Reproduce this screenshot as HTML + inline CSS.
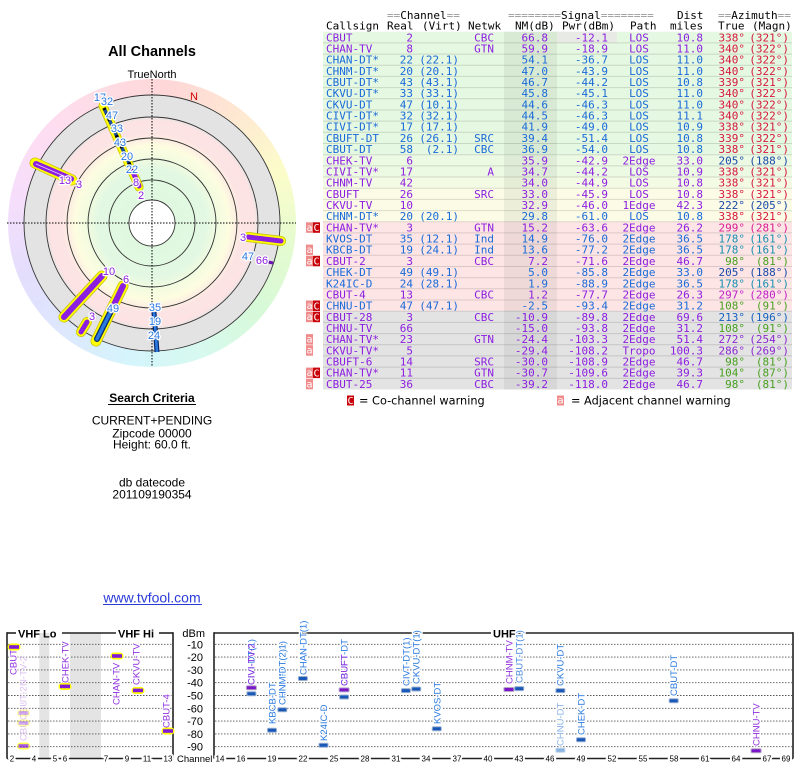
<!DOCTYPE html>
<html><head><meta charset="utf-8"><style>
html,body{margin:0;padding:0;background:#fff;}
#wrap{position:relative;width:800px;height:768px;overflow:hidden;background:#fff;}
#ring{position:absolute;left:8px;top:79px;width:288px;height:288px;border-radius:50%;
background:conic-gradient(from 8deg, hsl(0,95%,92%), hsl(30,95%,91%), hsl(60,90%,89%), hsl(90,85%,90%), hsl(120,75%,91%), hsl(160,75%,91%), hsl(190,85%,91%), hsl(220,90%,93%), hsl(250,85%,93%), hsl(285,85%,93%), hsl(320,90%,93%), hsl(345,95%,93%), hsl(360,95%,92%));}
#zones{position:absolute;left:24px;top:95px;width:256px;height:256px;border-radius:50%;
background:radial-gradient(circle closest-side, #fff 0, #fff 17.8%, #e0f8e0 18.2%, #e2f8e2 42%, #f6fce0 54%, #fdfde0 60%, #fde4e4 70%, #fde3e3 80%, #e3e3e3 83.5%, #e3e3e3 100%);}
svg{position:absolute;left:0;top:0;}
.m{font-family:"DejaVu Sans Mono","Liberation Mono",monospace;font-size:11px;}
.e{text-anchor:end;}
.c{text-anchor:middle;}
.s{font-family:"Liberation Sans",Arial,sans-serif;}
.lb{font-family:"Liberation Sans",Arial,sans-serif;font-size:11px;text-anchor:middle;stroke:#fff;stroke-width:2.5;paint-order:stroke;stroke-linejoin:round;}
.rl{font-family:"Liberation Sans",Arial,sans-serif;font-size:9.5px;stroke:#fff;stroke-width:2.5;paint-order:stroke;stroke-linejoin:round;}
.tk{font-family:"Liberation Sans",Arial,sans-serif;font-size:8px;text-anchor:middle;stroke:#fff;stroke-width:4;paint-order:stroke;}
</style></head><body><div id="wrap">
<div id="ring"></div><div id="zones"></div>
<svg width="800" height="768" viewBox="0 0 800 768" xmlns="http://www.w3.org/2000/svg">
<!-- ===== POLAR ===== -->
<g class="s">
<text x="152" y="56" text-anchor="middle" font-size="14.5" font-weight="bold">All Channels</text>
<text x="152" y="78" text-anchor="middle" font-size="11">TrueNorth</text>
</g>
<g fill="none" stroke="#333" stroke-width="0.9">
<circle cx="152" cy="223" r="23"/><circle cx="152" cy="223" r="43"/><circle cx="152" cy="223" r="64"/>
<circle cx="152" cy="223" r="85"/><circle cx="152" cy="223" r="106"/><circle cx="152" cy="223" r="128"/>
</g>
<g stroke="#000" stroke-width="1" stroke-dasharray="1.5 1.5">
<line x1="7" y1="223" x2="296" y2="223"/><line x1="152" y1="79" x2="152" y2="367"/>
</g>
<text x="194" y="100" class="s" font-size="11" fill="#d00000" text-anchor="middle">N</text>
<g stroke-linecap="round">
<!-- bar 339 -->
<line x1="103" y1="106" x2="139" y2="187" stroke="#c8c000" stroke-width="9"/>
<line x1="103" y1="106" x2="139" y2="187" stroke="#ffff00" stroke-width="7.5"/>
<line x1="104" y1="108" x2="133" y2="172" stroke="#1a4a9a" stroke-width="3.5" stroke-linecap="butt"/>
<line x1="104" y1="108" x2="133" y2="172" stroke="#000" stroke-width="3.5" stroke-dasharray="2 4" stroke-linecap="butt"/>
<line x1="133" y1="172" x2="139" y2="186" stroke="#8c1ee0" stroke-width="5"/>
<!-- bar 298 -->
<line x1="35" y1="163" x2="72" y2="180" stroke="#c8c000" stroke-width="11"/>
<line x1="35" y1="163" x2="72" y2="180" stroke="#ffff00" stroke-width="9.5"/>
<line x1="36" y1="164" x2="71" y2="179" stroke="#8c1ee0" stroke-width="6"/>
<line x1="36" y1="164" x2="71" y2="179" stroke="#e8d0ff" stroke-width="0.8"/>
<!-- bar 98 -->
<line x1="248" y1="237" x2="281" y2="241" stroke="#c8c000" stroke-width="10"/>
<line x1="248" y1="237" x2="281" y2="241" stroke="#ffff00" stroke-width="8.5"/>
<line x1="248" y1="237" x2="281" y2="241" stroke="#8c1ee0" stroke-width="5"/>
<line x1="268" y1="262" x2="273" y2="263" stroke="#6a10b0" stroke-width="3" stroke-linecap="butt"/>
<!-- bar 222 -->
<line x1="64" y1="317" x2="102" y2="276" stroke="#c8c000" stroke-width="11"/>
<line x1="64" y1="317" x2="102" y2="276" stroke="#ffff00" stroke-width="9.5"/>
<line x1="64" y1="317" x2="102" y2="276" stroke="#8c1ee0" stroke-width="6"/>
<!-- bar 205 -->
<line x1="96" y1="341" x2="123" y2="286" stroke="#c8c000" stroke-width="11"/>
<line x1="96" y1="341" x2="123" y2="286" stroke="#ffff00" stroke-width="9.5"/>
<line x1="123" y1="286" x2="110" y2="313" stroke="#8c1ee0" stroke-width="6"/>
<line x1="110" y1="313" x2="97" y2="339" stroke="#0a2a70" stroke-width="6"/>
<line x1="110" y1="313" x2="97" y2="339" stroke="#2a7ae0" stroke-width="3.5"/>
<!-- bar 213 -->
<line x1="81" y1="332" x2="87" y2="322" stroke="#c8c000" stroke-width="10"/>
<line x1="81" y1="332" x2="87" y2="322" stroke="#ffff00" stroke-width="8.5"/>
<line x1="81" y1="332" x2="87" y2="322" stroke="#8c1ee0" stroke-width="5"/>
<!-- bar 178 -->
<line x1="154" y1="312" x2="157" y2="352" stroke="#0a2a70" stroke-width="5" stroke-linecap="butt"/>
<line x1="154" y1="312" x2="157" y2="352" stroke="#2a7ae0" stroke-width="2.5" stroke-linecap="butt"/>
</g>
<g class="lb">
<text x="100" y="101" fill="#2a78e0">17</text>
<text x="107" y="105" fill="#2a78e0">32</text>
<text x="112" y="119" fill="#2a78e0">47</text>
<text x="117" y="132" fill="#2a78e0">33</text>
<text x="120" y="146" fill="#2a78e0">43</text>
<text x="127" y="160" fill="#2a78e0">20</text>
<text x="132" y="173" fill="#2a78e0">22</text>
<text x="136" y="186" fill="#8c1ee0">8</text>
<text x="141" y="199" fill="#8c1ee0">2</text>
<text x="65" y="184" fill="#8c1ee0">13</text>
<text x="79" y="188" fill="#8c1ee0">3</text>
<text x="243" y="241" fill="#8c1ee0">3</text>
<text x="248" y="260" fill="#2a78e0">47</text>
<text x="262" y="264" fill="#8c1ee0">66</text>
<text x="109" y="275" fill="#8c1ee0">10</text>
<text x="126" y="283" fill="#8c1ee0">6</text>
<text x="113" y="312" fill="#2a78e0">49</text>
<text x="92" y="320" fill="#8c1ee0">3</text>
<text x="155" y="311" fill="#2a78e0">35</text>
<text x="155" y="325" fill="#2a78e0">19</text>
<text x="154" y="339" fill="#2a78e0">24</text>
</g>
<!-- ===== LEFT TEXT ===== -->
<g class="s" text-anchor="middle" font-size="12">
<text x="152" y="402" font-weight="bold">Search Criteria</text>
<line x1="108" y1="404.5" x2="196" y2="404.5" stroke="#000" stroke-width="1"/>
<text x="152" y="424.3">CURRENT+PENDING</text>
<text x="152" y="437.3">Zipcode 00000</text>
<text x="152" y="448.3">Height: 60.0 ft.</text>
<text x="152" y="486.3">db datecode</text>
<text x="152" y="498.3">201109190354</text>
<text x="152" y="602.5" font-size="14" fill="#2a3bd8">www.tvfool.com</text>
<line x1="103" y1="604.5" x2="202" y2="604.5" stroke="#2a3bd8" stroke-width="1"/>
</g>
<!-- ===== TABLE ===== -->
<rect x="323" y="31.7" width="469" height="123" fill="#e5f8e1"/>
<rect x="323" y="154.7" width="469" height="22.3" fill="#ecf9e3"/>
<rect x="323" y="177" width="469" height="11.2" fill="#f4fbe4"/>
<rect x="323" y="188.2" width="469" height="33.6" fill="#fcfce6"/>
<rect x="323" y="221.8" width="469" height="89.4" fill="#fde5e5"/>
<rect x="323" y="311.2" width="469" height="78.3" fill="#e3e3e3"/>
<rect x="504" y="31.7" width="53" height="357.8" fill="#3c503c" fill-opacity="0.08"/>
<rect x="557" y="31.7" width="60" height="11.2" fill="#e8ebe5"/>
<g stroke="#000" stroke-opacity="0.13" stroke-width="1">
<line x1="323" x2="792" y1="42.9" y2="42.9"/><line x1="323" x2="792" y1="54.1" y2="54.1"/><line x1="323" x2="792" y1="65.2" y2="65.2"/><line x1="323" x2="792" y1="76.4" y2="76.4"/><line x1="323" x2="792" y1="87.6" y2="87.6"/><line x1="323" x2="792" y1="98.8" y2="98.8"/><line x1="323" x2="792" y1="110" y2="110"/><line x1="323" x2="792" y1="121.1" y2="121.1"/><line x1="323" x2="792" y1="132.3" y2="132.3"/><line x1="323" x2="792" y1="143.5" y2="143.5"/><line x1="323" x2="792" y1="154.7" y2="154.7"/><line x1="323" x2="792" y1="165.9" y2="165.9"/><line x1="323" x2="792" y1="177" y2="177"/><line x1="323" x2="792" y1="188.2" y2="188.2"/><line x1="323" x2="792" y1="199.4" y2="199.4"/><line x1="323" x2="792" y1="210.6" y2="210.6"/><line x1="323" x2="792" y1="221.8" y2="221.8"/><line x1="323" x2="792" y1="232.9" y2="232.9"/><line x1="323" x2="792" y1="244.1" y2="244.1"/><line x1="323" x2="792" y1="255.3" y2="255.3"/><line x1="323" x2="792" y1="266.5" y2="266.5"/><line x1="323" x2="792" y1="277.7" y2="277.7"/><line x1="323" x2="792" y1="288.8" y2="288.8"/><line x1="323" x2="792" y1="300" y2="300"/><line x1="323" x2="792" y1="311.2" y2="311.2"/><line x1="323" x2="792" y1="322.4" y2="322.4"/><line x1="323" x2="792" y1="333.6" y2="333.6"/><line x1="323" x2="792" y1="344.7" y2="344.7"/><line x1="323" x2="792" y1="355.9" y2="355.9"/><line x1="323" x2="792" y1="367.1" y2="367.1"/><line x1="323" x2="792" y1="378.3" y2="378.3"/>
</g>
<!-- header -->
<g class="m">
<text x="387" y="19"><tspan fill="#999">==</tspan>Channel<tspan fill="#999">==</tspan></text>
<text x="508" y="19"><tspan fill="#999">========</tspan>Signal<tspan fill="#999">========</tspan></text>
<text x="677" y="19">Dist</text>
<text x="718" y="19"><tspan fill="#999">==</tspan>Azimuth<tspan fill="#999">==</tspan></text>
<text x="326" y="29.5">Callsign</text>
<text x="387" y="29.5">Real</text>
<text x="422" y="29.5">(Virt)</text>
<text x="468" y="29.5">Netwk</text>
<text x="515" y="29.5">NM(dB)</text>
<text x="562" y="29.5">Pwr(dBm)</text>
<text x="630" y="29.5">Path</text>
<text x="670" y="29.5">miles</text>
<text x="718" y="29.5">True</text>
<text x="752" y="29.5">(Magn)</text>
</g>
<!-- rows -->
<g class="m">
<g fill="#8c1ee0"><text x="326" y="41.3">CBUT</text><text x="413" y="41.3" class="e">2</text><text x="494" y="41.3" class="e">CBC</text><text x="548" y="41.3" class="e">66.8</text><text x="608" y="41.3" class="e">-12.1</text><text x="639" y="41.3" class="c">LOS</text><text x="703" y="41.3" class="e">10.8</text></g>
<g fill="#8c1ee0"><text x="326" y="52.5">CHAN-TV</text><text x="413" y="52.5" class="e">8</text><text x="494" y="52.5" class="e">GTN</text><text x="548" y="52.5" class="e">59.9</text><text x="608" y="52.5" class="e">-18.9</text><text x="639" y="52.5" class="c">LOS</text><text x="703" y="52.5" class="e">11.0</text></g>
<g fill="#1a6ad8"><text x="326" y="63.7">CHAN-DT*</text><text x="413" y="63.7" class="e">22</text><text x="459" y="63.7" class="e">(22.1)</text><text x="548" y="63.7" class="e">54.1</text><text x="608" y="63.7" class="e">-36.7</text><text x="639" y="63.7" class="c">LOS</text><text x="703" y="63.7" class="e">11.0</text></g>
<g fill="#1a6ad8"><text x="326" y="74.8">CHNM-DT*</text><text x="413" y="74.8" class="e">20</text><text x="459" y="74.8" class="e">(20.1)</text><text x="548" y="74.8" class="e">47.0</text><text x="608" y="74.8" class="e">-43.9</text><text x="639" y="74.8" class="c">LOS</text><text x="703" y="74.8" class="e">11.0</text></g>
<g fill="#1a6ad8"><text x="326" y="86">CBUT-DT*</text><text x="413" y="86" class="e">43</text><text x="459" y="86" class="e">(43.1)</text><text x="548" y="86" class="e">46.7</text><text x="608" y="86" class="e">-44.2</text><text x="639" y="86" class="c">LOS</text><text x="703" y="86" class="e">10.8</text></g>
<g fill="#1a6ad8"><text x="326" y="97.2">CKVU-DT*</text><text x="413" y="97.2" class="e">33</text><text x="459" y="97.2" class="e">(33.1)</text><text x="548" y="97.2" class="e">45.8</text><text x="608" y="97.2" class="e">-45.1</text><text x="639" y="97.2" class="c">LOS</text><text x="703" y="97.2" class="e">11.0</text></g>
<g fill="#1a6ad8"><text x="326" y="108.4">CKVU-DT</text><text x="413" y="108.4" class="e">47</text><text x="459" y="108.4" class="e">(10.1)</text><text x="548" y="108.4" class="e">44.6</text><text x="608" y="108.4" class="e">-46.3</text><text x="639" y="108.4" class="c">LOS</text><text x="703" y="108.4" class="e">11.0</text></g>
<g fill="#1a6ad8"><text x="326" y="119.6">CIVT-DT*</text><text x="413" y="119.6" class="e">32</text><text x="459" y="119.6" class="e">(32.1)</text><text x="548" y="119.6" class="e">44.5</text><text x="608" y="119.6" class="e">-46.3</text><text x="639" y="119.6" class="c">LOS</text><text x="703" y="119.6" class="e">11.1</text></g>
<g fill="#1a6ad8"><text x="326" y="130.7">CIVI-DT*</text><text x="413" y="130.7" class="e">17</text><text x="459" y="130.7" class="e">(17.1)</text><text x="548" y="130.7" class="e">41.9</text><text x="608" y="130.7" class="e">-49.0</text><text x="639" y="130.7" class="c">LOS</text><text x="703" y="130.7" class="e">10.9</text></g>
<g fill="#1a6ad8"><text x="326" y="141.9">CBUFT-DT</text><text x="413" y="141.9" class="e">26</text><text x="459" y="141.9" class="e">(26.1)</text><text x="494" y="141.9" class="e">SRC</text><text x="548" y="141.9" class="e">39.4</text><text x="608" y="141.9" class="e">-51.4</text><text x="639" y="141.9" class="c">LOS</text><text x="703" y="141.9" class="e">10.8</text></g>
<g fill="#1a6ad8"><text x="326" y="153.1">CBUT-DT</text><text x="413" y="153.1" class="e">58</text><text x="459" y="153.1" class="e">(2.1)</text><text x="494" y="153.1" class="e">CBC</text><text x="548" y="153.1" class="e">36.9</text><text x="608" y="153.1" class="e">-54.0</text><text x="639" y="153.1" class="c">LOS</text><text x="703" y="153.1" class="e">10.8</text></g>
<g fill="#8c1ee0"><text x="326" y="164.3">CHEK-TV</text><text x="413" y="164.3" class="e">6</text><text x="548" y="164.3" class="e">35.9</text><text x="608" y="164.3" class="e">-42.9</text><text x="639" y="164.3" class="c">2Edge</text><text x="703" y="164.3" class="e">33.0</text></g>
<g fill="#8c1ee0"><text x="326" y="175.5">CIVI-TV*</text><text x="413" y="175.5" class="e">17</text><text x="494" y="175.5" class="e">A</text><text x="548" y="175.5" class="e">34.7</text><text x="608" y="175.5" class="e">-44.2</text><text x="639" y="175.5" class="c">LOS</text><text x="703" y="175.5" class="e">10.9</text></g>
<g fill="#8c1ee0"><text x="326" y="186.6">CHNM-TV</text><text x="413" y="186.6" class="e">42</text><text x="548" y="186.6" class="e">34.0</text><text x="608" y="186.6" class="e">-44.9</text><text x="639" y="186.6" class="c">LOS</text><text x="703" y="186.6" class="e">10.8</text></g>
<g fill="#8c1ee0"><text x="326" y="197.8">CBUFT</text><text x="413" y="197.8" class="e">26</text><text x="494" y="197.8" class="e">SRC</text><text x="548" y="197.8" class="e">33.0</text><text x="608" y="197.8" class="e">-45.9</text><text x="639" y="197.8" class="c">LOS</text><text x="703" y="197.8" class="e">10.8</text></g>
<g fill="#8c1ee0"><text x="326" y="209">CKVU-TV</text><text x="413" y="209" class="e">10</text><text x="548" y="209" class="e">32.9</text><text x="608" y="209" class="e">-46.0</text><text x="639" y="209" class="c">1Edge</text><text x="703" y="209" class="e">42.3</text></g>
<g fill="#1a6ad8"><text x="326" y="220.2">CHNM-DT*</text><text x="413" y="220.2" class="e">20</text><text x="459" y="220.2" class="e">(20.1)</text><text x="548" y="220.2" class="e">29.8</text><text x="608" y="220.2" class="e">-61.0</text><text x="639" y="220.2" class="c">LOS</text><text x="703" y="220.2" class="e">10.8</text></g>
<g fill="#8c1ee0"><text x="326" y="231.4">CHAN-TV*</text><text x="413" y="231.4" class="e">3</text><text x="494" y="231.4" class="e">GTN</text><text x="548" y="231.4" class="e">15.2</text><text x="608" y="231.4" class="e">-63.6</text><text x="639" y="231.4" class="c">2Edge</text><text x="703" y="231.4" class="e">26.2</text></g>
<g fill="#1a6ad8"><text x="326" y="242.5">KVOS-DT</text><text x="413" y="242.5" class="e">35</text><text x="459" y="242.5" class="e">(12.1)</text><text x="494" y="242.5" class="e">Ind</text><text x="548" y="242.5" class="e">14.9</text><text x="608" y="242.5" class="e">-76.0</text><text x="639" y="242.5" class="c">2Edge</text><text x="703" y="242.5" class="e">36.5</text></g>
<g fill="#1a6ad8"><text x="326" y="253.7">KBCB-DT</text><text x="413" y="253.7" class="e">19</text><text x="459" y="253.7" class="e">(24.1)</text><text x="494" y="253.7" class="e">Ind</text><text x="548" y="253.7" class="e">13.6</text><text x="608" y="253.7" class="e">-77.2</text><text x="639" y="253.7" class="c">2Edge</text><text x="703" y="253.7" class="e">36.5</text></g>
<g fill="#8c1ee0"><text x="326" y="264.9">CBUT-2</text><text x="413" y="264.9" class="e">3</text><text x="494" y="264.9" class="e">CBC</text><text x="548" y="264.9" class="e">7.2</text><text x="608" y="264.9" class="e">-71.6</text><text x="639" y="264.9" class="c">2Edge</text><text x="703" y="264.9" class="e">46.7</text></g>
<g fill="#1a6ad8"><text x="326" y="276.1">CHEK-DT</text><text x="413" y="276.1" class="e">49</text><text x="459" y="276.1" class="e">(49.1)</text><text x="548" y="276.1" class="e">5.0</text><text x="608" y="276.1" class="e">-85.8</text><text x="639" y="276.1" class="c">2Edge</text><text x="703" y="276.1" class="e">33.0</text></g>
<g fill="#1a6ad8"><text x="326" y="287.3">K24IC-D</text><text x="413" y="287.3" class="e">24</text><text x="459" y="287.3" class="e">(28.1)</text><text x="548" y="287.3" class="e">1.9</text><text x="608" y="287.3" class="e">-88.9</text><text x="639" y="287.3" class="c">2Edge</text><text x="703" y="287.3" class="e">36.5</text></g>
<g fill="#8c1ee0"><text x="326" y="298.4">CBUT-4</text><text x="413" y="298.4" class="e">13</text><text x="494" y="298.4" class="e">CBC</text><text x="548" y="298.4" class="e">1.2</text><text x="608" y="298.4" class="e">-77.7</text><text x="639" y="298.4" class="c">2Edge</text><text x="703" y="298.4" class="e">26.3</text></g>
<g fill="#1a6ad8"><text x="326" y="309.6">CHNU-DT</text><text x="413" y="309.6" class="e">47</text><text x="459" y="309.6" class="e">(47.1)</text><text x="548" y="309.6" class="e">-2.5</text><text x="608" y="309.6" class="e">-93.4</text><text x="639" y="309.6" class="c">2Edge</text><text x="703" y="309.6" class="e">31.2</text></g>
<g fill="#8c1ee0"><text x="326" y="320.8">CBUT-28</text><text x="413" y="320.8" class="e">3</text><text x="494" y="320.8" class="e">CBC</text><text x="548" y="320.8" class="e">-10.9</text><text x="608" y="320.8" class="e">-89.8</text><text x="639" y="320.8" class="c">2Edge</text><text x="703" y="320.8" class="e">69.6</text></g>
<g fill="#8c1ee0"><text x="326" y="332">CHNU-TV</text><text x="413" y="332" class="e">66</text><text x="548" y="332" class="e">-15.0</text><text x="608" y="332" class="e">-93.8</text><text x="639" y="332" class="c">2Edge</text><text x="703" y="332" class="e">31.2</text></g>
<g fill="#8c1ee0"><text x="326" y="343.2">CHAN-TV*</text><text x="413" y="343.2" class="e">23</text><text x="494" y="343.2" class="e">GTN</text><text x="548" y="343.2" class="e">-24.4</text><text x="608" y="343.2" class="e">-103.3</text><text x="639" y="343.2" class="c">2Edge</text><text x="703" y="343.2" class="e">51.4</text></g>
<g fill="#8c1ee0"><text x="326" y="354.3">CKVU-TV*</text><text x="413" y="354.3" class="e">5</text><text x="548" y="354.3" class="e">-29.4</text><text x="608" y="354.3" class="e">-108.2</text><text x="639" y="354.3" class="c">Tropo</text><text x="703" y="354.3" class="e">100.3</text></g>
<g fill="#8c1ee0"><text x="326" y="365.5">CBUFT-6</text><text x="413" y="365.5" class="e">14</text><text x="494" y="365.5" class="e">SRC</text><text x="548" y="365.5" class="e">-30.0</text><text x="608" y="365.5" class="e">-108.9</text><text x="639" y="365.5" class="c">2Edge</text><text x="703" y="365.5" class="e">46.7</text></g>
<g fill="#8c1ee0"><text x="326" y="376.7">CHAN-TV*</text><text x="413" y="376.7" class="e">11</text><text x="494" y="376.7" class="e">GTN</text><text x="548" y="376.7" class="e">-30.7</text><text x="608" y="376.7" class="e">-109.6</text><text x="639" y="376.7" class="c">2Edge</text><text x="703" y="376.7" class="e">39.3</text></g>
<g fill="#8c1ee0"><text x="326" y="387.9">CBUT-25</text><text x="413" y="387.9" class="e">36</text><text x="494" y="387.9" class="e">CBC</text><text x="548" y="387.9" class="e">-39.2</text><text x="608" y="387.9" class="e">-118.0</text><text x="639" y="387.9" class="c">2Edge</text><text x="703" y="387.9" class="e">46.7</text></g>
</g>
<!-- azimuth columns -->
<g class="m e">
<g fill="#d6183c">
<text x="745" y="41.3">338°</text><text x="789" y="41.3">(321°)</text>
<text x="745" y="52.5">340°</text><text x="789" y="52.5">(322°)</text>
<text x="745" y="63.7">340°</text><text x="789" y="63.7">(322°)</text>
<text x="745" y="74.8">340°</text><text x="789" y="74.8">(322°)</text>
<text x="745" y="86">339°</text><text x="789" y="86">(321°)</text>
<text x="745" y="97.2">340°</text><text x="789" y="97.2">(322°)</text>
<text x="745" y="108.4">340°</text><text x="789" y="108.4">(322°)</text>
<text x="745" y="119.6">340°</text><text x="789" y="119.6">(322°)</text>
<text x="745" y="130.7">338°</text><text x="789" y="130.7">(321°)</text>
<text x="745" y="141.9">339°</text><text x="789" y="141.9">(322°)</text>
<text x="745" y="153.1">338°</text><text x="789" y="153.1">(321°)</text>
<text x="745" y="175.5">338°</text><text x="789" y="175.5">(321°)</text>
<text x="745" y="186.6">338°</text><text x="789" y="186.6">(321°)</text>
<text x="745" y="197.8">338°</text><text x="789" y="197.8">(321°)</text>
<text x="745" y="220.2">338°</text><text x="789" y="220.2">(321°)</text>
</g>
<g fill="#1a4aa8">
<text x="745" y="164.3">205°</text><text x="789" y="164.3">(188°)</text>
<text x="745" y="209">222°</text><text x="789" y="209">(205°)</text>
<text x="745" y="276.1">205°</text><text x="789" y="276.1">(188°)</text>
</g>
<g fill="#1a62c0"><text x="745" y="320.8">213°</text><text x="789" y="320.8">(196°)</text></g>
<g fill="#d81c90"><text x="745" y="231.4">299°</text><text x="789" y="231.4">(281°)</text></g>
<g fill="#1890b0">
<text x="745" y="242.5">178°</text><text x="789" y="242.5">(161°)</text>
<text x="745" y="253.7">178°</text><text x="789" y="253.7">(161°)</text>
<text x="745" y="287.3">178°</text><text x="789" y="287.3">(161°)</text>
</g>
<g fill="#48a020">
<text x="745" y="264.9">98°</text><text x="789" y="264.9">(81°)</text>
<text x="745" y="309.6">108°</text><text x="789" y="309.6">(91°)</text>
<text x="745" y="332">108°</text><text x="789" y="332">(91°)</text>
<text x="745" y="365.5">98°</text><text x="789" y="365.5">(81°)</text>
<text x="745" y="376.7">104°</text><text x="789" y="376.7">(87°)</text>
<text x="745" y="387.9">98°</text><text x="789" y="387.9">(81°)</text>
</g>
<g fill="#c020c8"><text x="745" y="298.4">297°</text><text x="789" y="298.4">(280°)</text></g>
<g fill="#8a28d0">
<text x="745" y="343.2">272°</text><text x="789" y="343.2">(254°)</text>
<text x="745" y="354.3">286°</text><text x="789" y="354.3">(269°)</text>
</g>
</g>
<!-- warnings -->
<g>
<rect x="306" y="222.3" width="7" height="10.5" fill="#f08c8c"/><rect x="313" y="222.3" width="7" height="10.5" fill="#c8000a"/>
<rect x="306" y="244.6" width="7" height="10.5" fill="#f08c8c"/>
<rect x="306" y="255.8" width="7" height="10.5" fill="#f08c8c"/><rect x="313" y="255.8" width="7" height="10.5" fill="#c8000a"/>
<rect x="306" y="300.5" width="7" height="10.5" fill="#f08c8c"/><rect x="313" y="300.5" width="7" height="10.5" fill="#c8000a"/>
<rect x="306" y="311.7" width="7" height="10.5" fill="#f08c8c"/><rect x="313" y="311.7" width="7" height="10.5" fill="#c8000a"/>
<rect x="306" y="334.1" width="7" height="10.5" fill="#f08c8c"/>
<rect x="306" y="345.2" width="7" height="10.5" fill="#f08c8c"/>
<rect x="306" y="367.6" width="7" height="10.5" fill="#f08c8c"/><rect x="313" y="367.6" width="7" height="10.5" fill="#c8000a"/>
<rect x="306" y="378.8" width="7" height="10.5" fill="#f08c8c"/>
</g>
<g font-family="DejaVu Sans Mono,monospace" font-size="10" fill="#fff" text-anchor="middle">
<text x="309.5" y="230.8">a</text><text x="316.5" y="231.2">C</text>
<text x="309.5" y="253.1">a</text>
<text x="309.5" y="264.3">a</text><text x="316.5" y="264.7">C</text>
<text x="309.5" y="309">a</text><text x="316.5" y="309.4">C</text>
<text x="309.5" y="320.2">a</text><text x="316.5" y="320.6">C</text>
<text x="309.5" y="342.6">a</text>
<text x="309.5" y="353.7">a</text>
<text x="309.5" y="376.1">a</text><text x="316.5" y="376.5">C</text>
<text x="309.5" y="387.3">a</text>
</g>
<!-- legend -->
<rect x="347" y="395.5" width="7" height="10" fill="#c8000a"/>
<text x="350.5" y="404" font-family="DejaVu Sans Mono,monospace" font-size="10" fill="#fff" text-anchor="middle">C</text>
<text x="359" y="404.5" font-family="DejaVu Sans,sans-serif" font-size="11.3">= Co-channel warning</text>
<rect x="557" y="395.5" width="7" height="10" fill="#f08c8c"/>
<text x="560.5" y="403.5" font-family="DejaVu Sans Mono,monospace" font-size="10" fill="#fff" text-anchor="middle">a</text>
<text x="571" y="404.5" font-family="DejaVu Sans,sans-serif" font-size="11.3">= Adjacent channel warning</text>

<!-- ===== BOTTOM CHART ===== -->
<rect x="39.3" y="633" width="10" height="125" fill="#e4e4e4"/>
<rect x="70" y="633" width="31" height="125" fill="#e4e4e4"/>
<g stroke="#555" stroke-width="0.9" stroke-dasharray="1.5 1.5">
<line x1="8" x2="172" y1="644.3" y2="644.3"/><line x1="8" x2="172" y1="657.1" y2="657.1"/><line x1="8" x2="172" y1="669.9" y2="669.9"/><line x1="8" x2="172" y1="682.7" y2="682.7"/><line x1="8" x2="172" y1="695.5" y2="695.5"/><line x1="8" x2="172" y1="708.3" y2="708.3"/><line x1="8" x2="172" y1="721.1" y2="721.1"/><line x1="8" x2="172" y1="733.9" y2="733.9"/><line x1="8" x2="172" y1="746.7" y2="746.7"/>
<line x1="215" x2="792" y1="644.3" y2="644.3"/><line x1="215" x2="792" y1="657.1" y2="657.1"/><line x1="215" x2="792" y1="669.9" y2="669.9"/><line x1="215" x2="792" y1="682.7" y2="682.7"/><line x1="215" x2="792" y1="695.5" y2="695.5"/><line x1="215" x2="792" y1="708.3" y2="708.3"/><line x1="215" x2="792" y1="721.1" y2="721.1"/><line x1="215" x2="792" y1="733.9" y2="733.9"/><line x1="215" x2="792" y1="746.7" y2="746.7"/>
</g>
<g stroke="#222" stroke-width="1.6" fill="none">
<line x1="7" y1="633" x2="16" y2="633"/><line x1="62" y1="633" x2="116" y2="633"/><line x1="159" y1="633" x2="173" y2="633"/>
<line x1="7" y1="632.2" x2="7" y2="758.5"/><line x1="173" y1="632.2" x2="173" y2="758.5"/>
<line x1="7" y1="758.5" x2="173" y2="758.5"/>
<line x1="214" y1="633" x2="491" y2="633"/><line x1="517" y1="633" x2="793" y2="633"/>
<line x1="214" y1="632.2" x2="214" y2="758.5"/><line x1="793" y1="632.2" x2="793" y2="758.5"/>
<line x1="214" y1="758.5" x2="793" y2="758.5"/>
</g>
<g class="s" font-weight="bold" font-size="11">
<text x="18" y="637.5">VHF Lo</text><text x="118" y="637.5">VHF Hi</text><text x="493" y="637.5">UHF</text>
</g>
<g class="s" font-size="11" text-anchor="end">
<text x="205" y="637" text-anchor="end">dBm</text>
<text x="203" y="648.3">-10</text><text x="203" y="661.1">-20</text><text x="203" y="673.9">-30</text><text x="203" y="686.7">-40</text><text x="203" y="699.5">-50</text><text x="203" y="712.3">-60</text><text x="203" y="725.1">-70</text><text x="203" y="737.9">-80</text><text x="203" y="750.7">-90</text>
</g>
<text x="177" y="762" class="s" font-size="9.5">Channel</text>
<g class="tk">
<text x="12" y="761.5">2</text><text x="34" y="761.5">4</text><text x="55" y="761.5">5</text><text x="65" y="761.5">6</text><text x="106" y="761.5">7</text><text x="127" y="761.5">9</text><text x="147" y="761.5">11</text><text x="168" y="761.5">13</text>
<text x="220" y="761.5">14</text><text x="241" y="761.5">16</text><text x="272" y="761.5">19</text><text x="303" y="761.5">22</text><text x="334" y="761.5">25</text><text x="365" y="761.5">28</text><text x="396" y="761.5">31</text><text x="426" y="761.5">34</text><text x="457" y="761.5">37</text><text x="488" y="761.5">40</text><text x="519" y="761.5">43</text><text x="550" y="761.5">46</text><text x="581" y="761.5">49</text><text x="612" y="761.5">52</text><text x="643" y="761.5">55</text><text x="674" y="761.5">58</text><text x="705" y="761.5">61</text><text x="736" y="761.5">64</text><text x="767" y="761.5">67</text><text x="786" y="761.5">69</text>
</g>
<!-- VHF labels -->
<g class="rl">
<text transform="translate(16.5,675) rotate(-90)" fill="#9030e0">CBUT</text>
<g fill="#b070e0" opacity="0.45">
<text transform="translate(26.5,706) rotate(-90)">CHAN-TV-2</text>
<text transform="translate(26.5,741) rotate(-90)">CBUT-28</text>
<text transform="translate(26.5,720) rotate(-90)">CBUT-2</text>
</g>
<text transform="translate(68.5,683) rotate(-90)" fill="#9030e0">CHEK-TV</text>
<text transform="translate(119.5,705) rotate(-90)" fill="#9030e0">CHAN-TV</text>
<text transform="translate(139.5,685) rotate(-90)" fill="#9030e0">CKVU-TV</text>
<text transform="translate(169.5,728) rotate(-90)" fill="#9030e0">CBUT-4</text>
</g>
<!-- VHF markers -->
<g>
<g opacity="0.35"><rect x="17" y="709.5" width="13" height="7" rx="3.5" fill="#ffff00"/><rect x="18.5" y="711.2" width="10" height="3.6" fill="#8018d8"/>
<rect x="17" y="719.5" width="13" height="7" rx="3.5" fill="#ffff00"/><rect x="18.5" y="721.2" width="10" height="3.6" fill="#8018d8"/></g>
<g opacity="0.7"><rect x="17" y="742.5" width="13" height="7" rx="3.5" fill="#ffff00"/><rect x="18.5" y="744.2" width="10" height="3.6" fill="#8018d8"/></g>
<rect x="7.5" y="643.5" width="13" height="7" rx="3.5" fill="#ffff00"/><rect x="9" y="645.2" width="10" height="3.6" fill="#8018d8"/>
<rect x="58.5" y="683" width="13" height="7" rx="3.5" fill="#ffff00"/><rect x="60" y="684.6" width="10" height="3.6" fill="#8018d8"/>
<rect x="110.5" y="652.5" width="13" height="7" rx="3.5" fill="#ffff00"/><rect x="112" y="654.2" width="10" height="3.6" fill="#8018d8"/>
<rect x="131.5" y="687" width="13" height="7" rx="3.5" fill="#ffff00"/><rect x="133" y="688.6" width="10" height="3.6" fill="#8018d8"/>
<rect x="161.5" y="727.5" width="13" height="7" rx="3.5" fill="#ffff00"/><rect x="163" y="729.2" width="10" height="3.6" fill="#8018d8"/>
</g>
<!-- UHF labels -->
<g class="rl">
<text transform="translate(254.5,685) rotate(-90)" fill="#2a7ae0">CIVI-DT(1)</text>
<text transform="translate(254.5,685) rotate(-90)" fill="#9030e0" stroke="none">CIVI-TV-2</text>
<text transform="translate(275.5,724) rotate(-90)" fill="#2a7ae0">KBCB-DT</text>
<text transform="translate(285.5,697) rotate(-90)" fill="#2a7ae0">CHNM-DT(1)</text>
<text transform="translate(285.5,705) rotate(-90)" fill="#2a7ae0">CHNM-DT(2)</text>
<text transform="translate(306.5,675) rotate(-90)" fill="#2a7ae0">CHAN-DT(1)</text>
<text transform="translate(327,741) rotate(-90)" fill="#2a7ae0">K24IC-D</text>
<text transform="translate(347.5,686) rotate(-90)" fill="#2a7ae0">CBUFT-DT</text>
<text transform="translate(347.5,686) rotate(-90)" fill="#9030e0" stroke="none">CBUFT</text>
<text transform="translate(409.5,686) rotate(-90)" fill="#2a7ae0">CIVT-DT(1)</text>
<text transform="translate(419.5,684) rotate(-90)" fill="#2a7ae0">CKVU-DT(1)</text>
<text transform="translate(440.5,724) rotate(-90)" fill="#2a7ae0">KVOS-DT</text>
<text transform="translate(512.5,684) rotate(-90)" fill="#9030e0">CHNM-TV</text>
<text transform="translate(522.5,683) rotate(-90)" fill="#4a8ae0">CBUT-DT(1)</text>
<text transform="translate(563.5,686) rotate(-90)" fill="#2a7ae0">CKVU-DT</text>
<text transform="translate(563.5,746) rotate(-90)" fill="#8ab4e8">CHNU-DT</text>
<text transform="translate(584.5,735) rotate(-90)" fill="#2a7ae0">CHEK-DT</text>
<text transform="translate(677,696) rotate(-90)" fill="#2a7ae0">CBUT-DT</text>
<text transform="translate(759.5,746) rotate(-90)" fill="#9030e0">CHNU-TV</text>
</g>
<!-- UHF markers -->
<g stroke-width="1">
<rect x="246.4" y="685.7" width="10" height="4" rx="1" fill="#7a18c8" stroke="#b8a8c8"/>
<rect x="246.9" y="691.8" width="9" height="4" rx="1" fill="#1a58b8" stroke="#9ab0d0"/>
<rect x="267.5" y="728.3" width="9" height="4" rx="1" fill="#1a58b8" stroke="#9ab0d0"/>
<rect x="277.8" y="707.8" width="9" height="4" rx="1" fill="#1a58b8" stroke="#9ab0d0"/>
<rect x="298.4" y="676.5" width="9" height="4" rx="1" fill="#1a58b8" stroke="#9ab0d0"/>
<rect x="319" y="743.3" width="9" height="4" rx="1" fill="#1a58b8" stroke="#9ab0d0"/>
<rect x="339.1" y="687.9" width="10" height="4" rx="1" fill="#7a18c8" stroke="#b8a8c8"/>
<rect x="339.6" y="695" width="9" height="4" rx="1" fill="#1a58b8" stroke="#9ab0d0"/>
<rect x="401.4" y="688.6" width="9" height="4" rx="1" fill="#1a58b8" stroke="#9ab0d0"/>
<rect x="411.7" y="687" width="9" height="4" rx="1" fill="#1a58b8" stroke="#9ab0d0"/>
<rect x="432.3" y="726.7" width="9" height="4" rx="1" fill="#1a58b8" stroke="#9ab0d0"/>
<rect x="503.9" y="687.5" width="10" height="4" rx="1" fill="#7a18c8" stroke="#b8a8c8"/>
<rect x="514.7" y="686.6" width="9" height="4" rx="1" fill="#1a58b8" stroke="#9ab0d0"/>
<rect x="555.9" y="688.6" width="9" height="4" rx="1" fill="#1a58b8" stroke="#9ab0d0"/>
<rect x="555.9" y="748.3" width="9" height="4" rx="1" fill="#8ab4e0" stroke="#c0d4ec"/>
<rect x="576.5" y="737.7" width="9" height="4" rx="1" fill="#1a58b8" stroke="#9ab0d0"/>
<rect x="669.2" y="698.8" width="9" height="4" rx="1" fill="#1a58b8" stroke="#9ab0d0"/>
<rect x="751.1" y="748.8" width="10" height="4" rx="1" fill="#7a18c8" stroke="#b8a8c8"/>
</g>
</svg>
</div></body></html>
